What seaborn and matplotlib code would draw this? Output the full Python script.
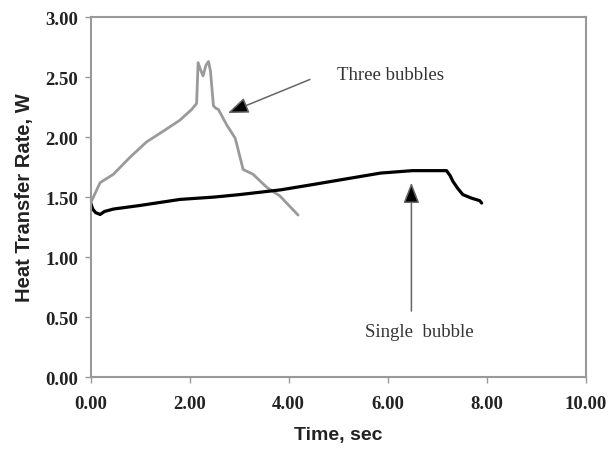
import matplotlib
matplotlib.use("Agg")
import matplotlib.pyplot as plt
import seaborn as sns
import pandas as pd
import numpy as np

# three bubbles (gray curve)
t_three = [0.00, 0.02, 0.19, 0.46, 0.79, 1.13, 1.47, 1.80, 2.04, 2.14, 2.17, 2.22,
           2.27, 2.33, 2.38, 2.42, 2.48, 2.53, 2.58, 2.75, 2.92, 3.08, 3.28, 3.56,
           3.82, 4.19]
q_three = [1.45, 1.47, 1.62, 1.69, 1.83, 1.96, 2.05, 2.14, 2.23, 2.28, 2.62, 2.56,
           2.51, 2.60, 2.63, 2.55, 2.26, 2.24, 2.23, 2.10, 1.99, 1.73, 1.69, 1.58,
           1.51, 1.35]

# single bubble (black curve)
t_single = [0.00, 0.04, 0.10, 0.19, 0.28, 0.46, 1.00, 1.80, 2.50, 3.00, 3.84, 4.50,
            5.00, 5.86, 6.50, 7.19, 7.26, 7.32, 7.42, 7.52, 7.70, 7.86, 7.90]
q_single = [1.45, 1.40, 1.37, 1.355, 1.38, 1.40, 1.43, 1.48, 1.50, 1.52, 1.56, 1.605,
            1.64, 1.70, 1.72, 1.72, 1.68, 1.63, 1.57, 1.52, 1.49, 1.47, 1.45]

x_ticks = [0, 2, 4, 6, 8, 10]
y_ticks = [0, 0.5, 1.0, 1.5, 2.0, 2.5, 3.0]

sns.set_style("white")
plt.rcParams['font.family'] = ['Liberation Serif', 'DejaVu Serif']

fig = plt.figure(figsize=(6.1, 4.52), dpi=100)
ax = fig.add_axes([0.1487, 0.1637, 0.8113, 0.7963])

df3 = pd.DataFrame({'t': t_three, 'q': q_three})
df1 = pd.DataFrame({'t': t_single, 'q': q_single})
sns.lineplot(data=df3, x='t', y='q', ax=ax, color='#9a9a9a', lw=2.0, sort=False)
sns.lineplot(data=df1, x='t', y='q', ax=ax, color='black', lw=2.3, sort=False)

ax.set_xlim(0, 10)
ax.set_ylim(0, 3)
ax.set_xticks(x_ticks)
ax.set_yticks(y_ticks)
ax.set_xticklabels([f"{v:.2f}" for v in x_ticks])
ax.set_yticklabels([f"{v:.2f}" for v in y_ticks])
ax.tick_params(direction='out', length=4, width=1, color='#999999',
               labelsize=13.5, labelcolor='#222222', bottom=True, left=True)
ax.tick_params(axis='x', pad=9)
ax.tick_params(axis='y', pad=5)
for lab in ax.get_xticklabels() + ax.get_yticklabels():
    lab.set_fontweight('bold')

for s in ax.spines.values():
    s.set_color('#999999')
    s.set_linewidth(1.5)

ax.set_xlabel('Time, sec', family=['Liberation Sans'], fontweight='bold',
              fontsize=14, labelpad=10, color='#222222')
ax.set_ylabel('Heat Transfer Rate, W', family=['Liberation Sans'], fontweight='bold',
              fontsize=14.5, labelpad=8, color='#222222')

arrow = dict(arrowstyle='-|>,head_length=0.9,head_width=0.35', ec='#666666',
             fc='black', lw=1.1, shrinkA=0, shrinkB=0, mutation_scale=14)
ax.annotate('', xy=(2.77, 2.20), xytext=(4.43, 2.48), arrowprops=arrow)
ax.annotate('', xy=(6.48, 1.62), xytext=(6.48, 0.55), arrowprops=arrow)
ax.text(6.05, 2.52, 'Three bubbles', fontsize=13.5, color='#333333',
        ha='center', va='center')
ax.text(6.63, 0.38, 'Single  bubble', fontsize=13.5, color='#333333',
        ha='center', va='center')

fig.savefig('out.png', dpi=100)
